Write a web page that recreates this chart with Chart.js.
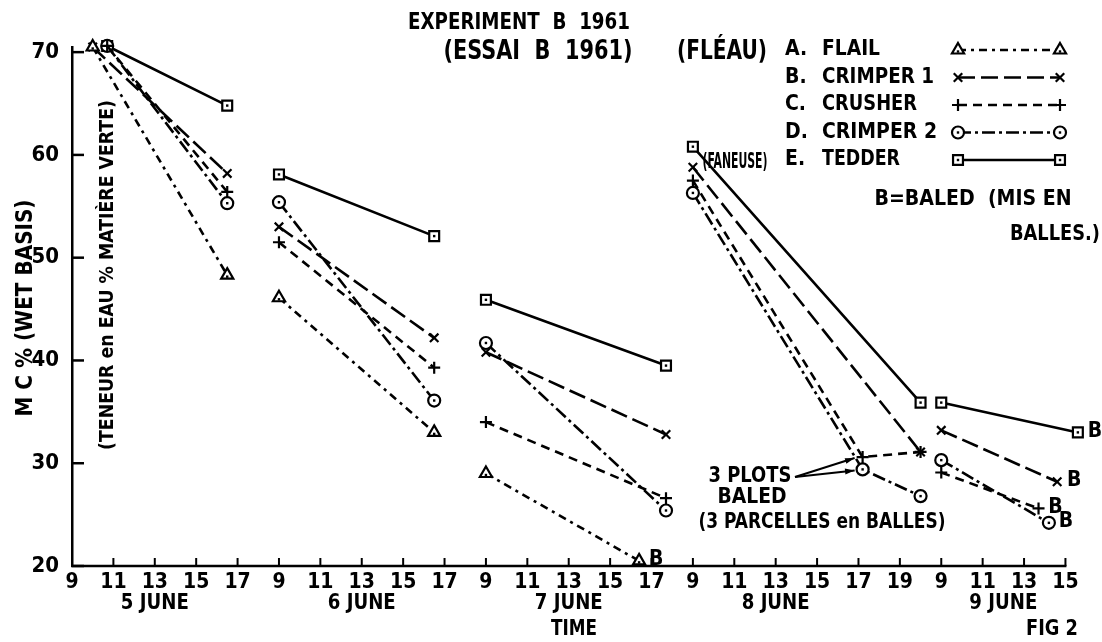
<!DOCTYPE html>
<html>
<head>
<meta charset="utf-8">
<script src="https://cdn.jsdelivr.net/npm/chart.js@4.4.0/dist/chart.umd.min.js"></script>
<style>
  html, body { margin: 0; padding: 0; background: #fff; }
</style>
</head>
<body>
<canvas id="chart" width="1102" height="642"></canvas>
<script>
// DATA ------------------------------------------------------

const days = ['5 JUNE', '6 JUNE', '7 JUNE', '8 JUNE', '9 JUNE'];
const dayHours = [
    [9, 11, 13, 15, 17],
    [9, 11, 13, 15, 17],
    [9, 11, 13, 15, 17],
    [9, 11, 13, 15, 17, 19],
    [9, 11, 13, 15]
];
const yTicks = [20, 30, 40, 50, 60, 70];

const seriesLetters = ['A.', 'B.', 'C.', 'D.', 'E.'];
const seriesNames = ['FLAIL', 'CRIMPER 1', 'CRUSHER', 'CRIMPER 2', 'TEDDER'];

// rows: [day, hour, moisture content %, baled (1 = marked B)]
const flail = [
    [0, 10, 70.5, 0], [0, 16.5, 48.3, 0],
    [1, 9, 46.1, 0], [1, 16.5, 33.0, 0],
    [2, 9, 29.0, 0], [2, 16.4, 20.5, 1]
];
const crimper1 = [
    [0, 10, 70.5, 0], [0, 16.5, 58.2, 0],
    [1, 9, 53.0, 0], [1, 16.5, 42.2, 0],
    [2, 9, 40.8, 0], [2, 17.7, 32.8, 0],
    [3, 9, 58.8, 0], [3, 20, 31.1, 0],
    [4, 9, 33.2, 0], [4, 14.6, 28.2, 1]
];
const crusher = [
    [0, 10.7, 70.6, 0], [0, 16.5, 56.4, 0],
    [1, 9, 51.5, 0], [1, 16.5, 39.3, 0],
    [2, 9, 34.0, 0], [2, 17.7, 26.6, 0],
    [3, 9, 57.5, 0], [3, 17.2, 30.6, 0], [3, 20, 31.1, 0],
    [4, 9, 29.1, 0], [4, 13.7, 25.6, 1]
];
const crimper2 = [
    [0, 10.7, 70.6, 0], [0, 16.5, 55.3, 0],
    [1, 9, 55.4, 0], [1, 16.5, 36.1, 0],
    [2, 9, 41.7, 0], [2, 17.7, 25.4, 0],
    [3, 9, 56.3, 0], [3, 17.2, 29.4, 0], [3, 20, 26.8, 0],
    [4, 9, 30.3, 0], [4, 14.2, 24.2, 1]
];
const tedder = [
    [0, 10.7, 70.6, 0], [0, 16.5, 64.8, 0],
    [1, 9, 58.1, 0], [1, 16.5, 52.1, 0],
    [2, 9, 45.9, 0], [2, 17.7, 39.5, 0],
    [3, 9, 60.8, 0], [3, 20, 35.9, 0],
    [4, 9, 35.9, 0], [4, 15.6, 33.0, 1]
];

// AXIS HELPERS ------------------------------------------------------

// every tick on the time axis is 2 hours; the days follow on without a gap
const dayStart = [];
let tickCount = 0;
dayHours.forEach(h => { dayStart.push(tickCount); tickCount += h.length; });
const tickLabels = dayHours.flat();

function axisPos(day, hour) {
    return dayStart[day] + (hour - dayHours[day][0]) / 2;
}

// one line per day, so break the line when the day changes
function toPoints(rows) {
    const pts = [];
    rows.forEach((r, i) => {
        if (i > 0 && r[0] !== rows[i - 1][0]) {
            pts.push({ x: axisPos(r[0], r[1]) - 0.5, y: null });
        }
        pts.push({ x: axisPos(r[0], r[1]), y: r[2] });
    });
    return pts;
}

const allSeries = [flail, crimper1, crusher, crimper2, tedder];
const dashes = [[8, 5, 3, 5], [17, 6], [9, 6], [13, 4, 3, 4], []];
const markers = ['triangle', 'crossRot', 'cross', 'circle', 'rect'];
const markerSize = [7, 6, 6, 6, 7];

const chartFont = "'DejaVu Sans Condensed', 'Liberation Sans Narrow', 'DejaVu Sans', sans-serif";

// draws bold text squeezed/stretched to a given width
function fitText(ctx, str, x, y, size, width, align, angle) {
    ctx.save();
    ctx.font = 'bold ' + size + 'px ' + chartFont;
    ctx.translate(x, y);
    if (angle) ctx.rotate(angle);
    const natural = ctx.measureText(str).width;
    if (width) ctx.scale(width / natural, 1);
    ctx.textAlign = align || 'center';
    ctx.textBaseline = 'middle';
    ctx.fillStyle = '#000';
    ctx.fillText(str, 0, 0);
    ctx.restore();
}

function marker(ctx, i, x, y) {
    ctx.save();
    ctx.setLineDash([]);
    ctx.fillStyle = '#fff';
    ctx.strokeStyle = '#000';
    ctx.lineWidth = 2.2;
    Chart.helpers.drawPoint(ctx, { pointStyle: markers[i], radius: markerSize[i], borderWidth: 2.2, rotation: 0 }, x, y);
    if (markers[i] === 'circle' || markers[i] === 'rect' || markers[i] === 'triangle') {
        ctx.fillStyle = '#000';
        ctx.fillRect(x - 1.2, y - 1.2 + (markers[i] === 'triangle' ? 1.5 : 0), 2.4, 2.4);
    }
    ctx.restore();
}

function findPoint(chart, i, day, hour) {
    const ds = chart.data.datasets[i];
    const j = ds.data.findIndex(p => p.y !== null && Math.abs(p.x - axisPos(day, hour)) < 1e-6);
    return chart.getDatasetMeta(i).data[j];
}

// PLUGINS ------------------------------------------------------

const axisMarks = {
    id: 'axisMarks',
    afterDraw(chart) {
        const ctx = chart.ctx;
        const area = chart.chartArea;
        const xs = chart.scales.x, ys = chart.scales.y;
        ctx.save();
        ctx.strokeStyle = '#000';
        // time axis line stops at the last tick
        ctx.lineWidth = 2.5;
        ctx.beginPath();
        ctx.moveTo(area.left - 1, area.bottom);
        ctx.lineTo(xs.getPixelForValue(tickCount - 1) + 1, area.bottom);
        ctx.stroke();
        yTicks.forEach(v => {
            const y = ys.getPixelForValue(v);
            ctx.beginPath();
            ctx.moveTo(area.left, y);
            ctx.lineTo(area.left + 12, y);
            ctx.stroke();
        });
        ctx.lineWidth = 2;
        tickLabels.forEach((t, i) => {
            const x = xs.getPixelForValue(i);
            ctx.beginPath();
            ctx.moveTo(x, area.bottom);
            ctx.lineTo(x, area.bottom - 8);
            ctx.stroke();
        });
        ctx.restore();
    }
};

const centreDots = {
    id: 'centreDots',
    afterDatasetsDraw(chart) {
        const ctx = chart.ctx;
        chart.data.datasets.forEach((ds, i) => {
            if (markers[i] === 'crossRot' || markers[i] === 'cross') return;
            chart.getDatasetMeta(i).data.forEach((el, j) => {
                if (ds.data[j].y === null) return;
                ctx.fillStyle = '#000';
                const dy = markers[i] === 'triangle' ? 1.5 : 0;
                ctx.fillRect(el.x - 1.2, el.y - 1.2 + dy, 2.4, 2.4);
            });
        });
    }
};

const lettering = {
    id: 'lettering',
    afterDraw(chart) {
        const ctx = chart.ctx;
        const xs = chart.scales.x;

        // titles
        fitText(ctx, 'EXPERIMENT  B  1961', 519, 23, 23, 222);
        fitText(ctx, '(ESSAI  B  1961)', 538, 52, 26, 189);
        fitText(ctx, '(FLÉAU)', 722, 52, 26, 90);

        // legend
        seriesNames.forEach((name, i) => {
            const y = 50 + i * 27.5;
            fitText(ctx, seriesLetters[i], 785, y, 21, 0, 'left');
            fitText(ctx, name, 822, y, 21, [58, 112, 95, 115, 78][i], 'left');
            ctx.save();
            ctx.strokeStyle = '#000';
            ctx.lineWidth = 2.5;
            ctx.setLineDash(dashes[i]);
            ctx.beginPath();
            ctx.moveTo(958, y);
            ctx.lineTo(1060, y);
            ctx.stroke();
            ctx.restore();
            marker(ctx, i, 958, y);
            marker(ctx, i, 1060, y);
        });
        fitText(ctx, '(FANEUSE)', 735, 163, 21, 65);
        fitText(ctx, 'B=BALED  (MIS EN', 973, 200, 21, 197);
        fitText(ctx, 'BALLES.)', 1055, 235, 21, 90);

        // y axis titles
        fitText(ctx, 'M C % (WET BASIS)', 26, 308, 23, 217, 'center', -Math.PI / 2);
        fitText(ctx, '(TENEUR en EAU % MATIÈRE VERTE)', 108, 275, 19, 350, 'center', -Math.PI / 2);

        // day labels under the hour ticks
        days.forEach((d, i) => {
            const h = dayHours[i];
            const mid = (h[0] + Math.min(17, h[h.length - 1])) / 2;
            fitText(ctx, d, xs.getPixelForValue(axisPos(i, mid)), 604, 21, 68);
        });
        fitText(ctx, 'TIME', 574, 630, 21, 46);
        fitText(ctx, 'FIG 2', 1052, 630, 21, 52);

        // B = baled
        allSeries.forEach((rows, i) => {
            rows.forEach(r => {
                if (!r[3]) return;
                const el = findPoint(chart, i, r[0], r[1]);
                fitText(ctx, 'B', el.x + 17, el.y - 1, 21, 0);
            });
        });

        // 3 plots baled note with arrows
        fitText(ctx, '3 PLOTS', 750, 477, 21, 83);
        fitText(ctx, 'BALED', 752, 498, 21, 69);
        fitText(ctx, '(3 PARCELLES en BALLES)', 822, 522, 22, 247);
        const targets = [findPoint(chart, 2, 3, 17.2), findPoint(chart, 3, 3, 17.2)];
        ctx.save();
        ctx.strokeStyle = '#000';
        ctx.fillStyle = '#000';
        ctx.lineWidth = 2;
        targets.forEach(el => {
            const x0 = 795, y0 = 477;
            const x1 = el.x - 8, y1 = el.y + 1;
            const a = Math.atan2(y1 - y0, x1 - x0);
            ctx.beginPath();
            ctx.moveTo(x0, y0);
            ctx.lineTo(x1, y1);
            ctx.stroke();
            ctx.beginPath();
            ctx.moveTo(x1, y1);
            ctx.lineTo(x1 - 10 * Math.cos(a - 0.3), y1 - 10 * Math.sin(a - 0.3));
            ctx.lineTo(x1 - 10 * Math.cos(a + 0.3), y1 - 10 * Math.sin(a + 0.3));
            ctx.closePath();
            ctx.fill();
        });
        ctx.restore();
    }
};

// CHART ------------------------------------------------------

const datasets = allSeries.map((rows, i) => ({
    label: seriesNames[i],
    data: toPoints(rows),
    borderColor: '#000',
    borderWidth: 2.6,
    borderDash: dashes[i],
    pointStyle: markers[i],
    pointRadius: markerSize[i],
    pointBorderWidth: 2.2,
    pointBackgroundColor: '#fff',
    pointBorderColor: '#000',
    spanGaps: false,
    clip: false,
    tension: 0
}));

new Chart(document.getElementById('chart'), {
    type: 'line',
    data: { datasets: datasets },
    options: {
        responsive: false,
        animation: false,
        devicePixelRatio: 1,
        layout: { padding: { top: 47, right: 20, left: 0, bottom: 0 } },
        plugins: {
            legend: { display: false },
            tooltip: { enabled: false }
        },
        scales: {
            x: {
                type: 'linear',
                min: 0,
                max: tickCount - 0.6,
                afterBuildTicks: scale => {
                    scale.ticks = tickLabels.map((t, i) => ({ value: i }));
                },
                afterFit: scale => { scale.height = 76; },
                grid: { display: false },
                border: { display: false },
                ticks: {
                    autoSkip: false,
                    maxRotation: 0,
                    padding: -4,
                    color: '#000',
                    font: { family: chartFont, size: 21, weight: 'bold' },
                    callback: v => tickLabels[v]
                }
            },
            y: {
                min: 20,
                max: 70.5,
                afterBuildTicks: scale => {
                    scale.ticks = yTicks.map(v => ({ value: v }));
                },
                afterFit: scale => { scale.width = 72; },
                grid: { display: false },
                border: { display: true, color: '#000', width: 2.5 },
                ticks: {
                    padding: 5,
                    color: '#000',
                    font: { family: chartFont, size: 22, weight: 'bold' }
                }
            }
        }
    },
    plugins: [axisMarks, centreDots, lettering]
});
</script>
</body>
</html>
